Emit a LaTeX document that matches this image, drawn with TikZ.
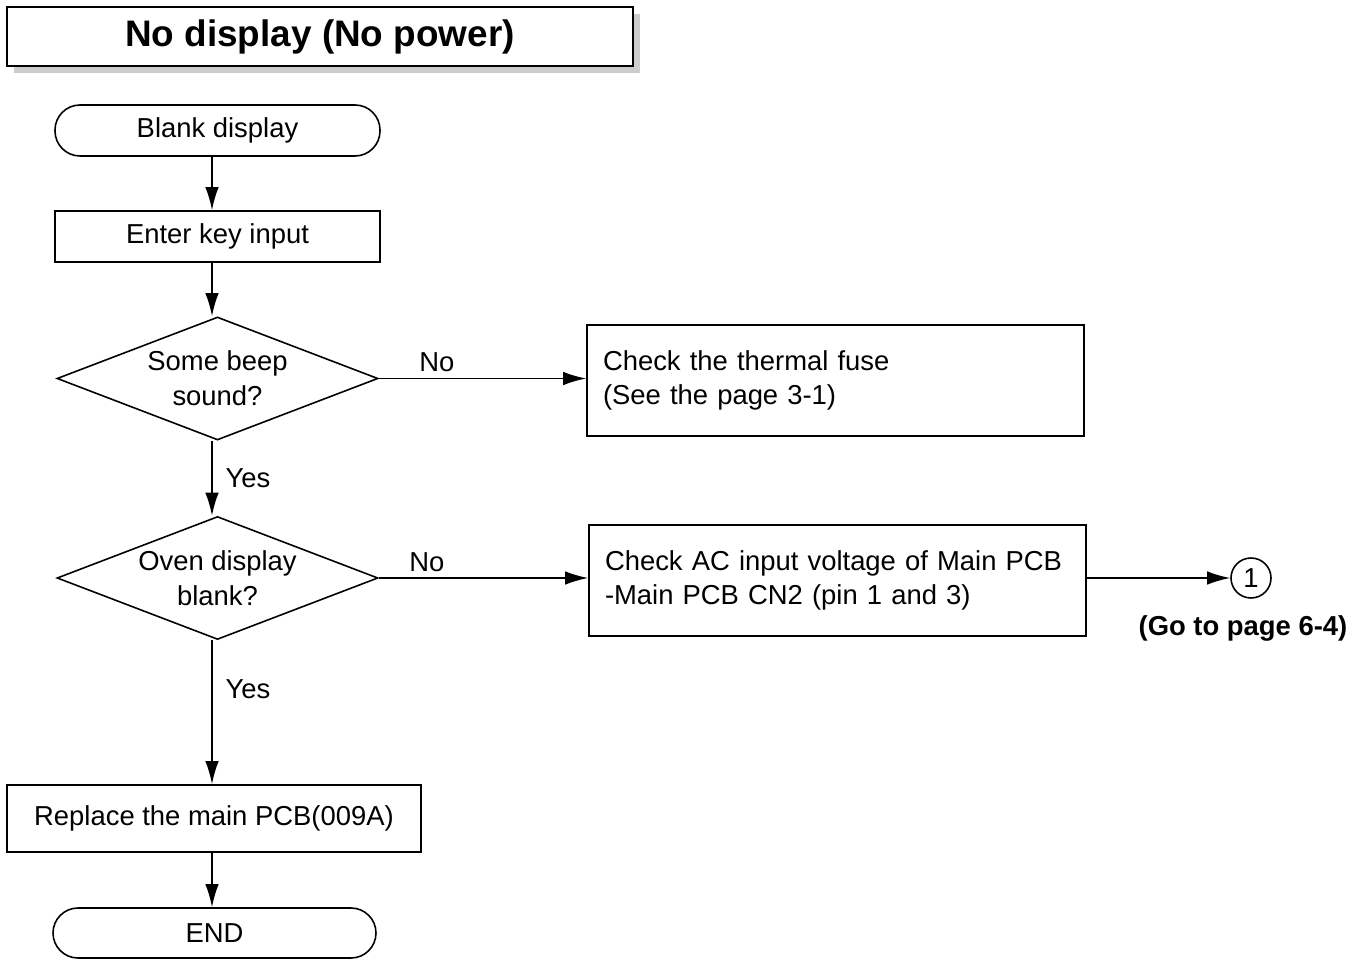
\documentclass[tikz,border=0pt]{standalone}
\usepackage{fontspec}
\setmainfont{Liberation Sans}
\usepackage{tikz}
\usetikzlibrary{shapes.geometric,arrows.meta,positioning,calc,shadows}

\begin{document}
\begin{tikzpicture}[>={Latex[length=0.46cm,width=0.27cm]}, line width=0.9pt]
        \tikzset{
            title/.style={draw, fill=white, rectangle, minimum height=1.18cm, minimum width=12.52cm, font=\fontsize{21}{25}\selectfont\bfseries, general shadow={fill=black!20, shadow xshift=0.14cm, shadow yshift=-0.14cm}},
            terminal/.style={draw, rectangle, rounded corners=0.5cm, minimum height=1.02cm, minimum width=6.5cm, font=\fontsize{15.6}{19.8}\selectfont},
            process/.style={draw, rectangle, minimum height=1.02cm, minimum width=6.5cm, font=\fontsize{15.6}{19.8}\selectfont},
            check/.style={draw, rectangle, minimum height=2.22cm, inner xsep=0.32cm, text width=9.3cm, align=left, font=\fontsize{15.6}{19.8}\selectfont},
            decision/.style={draw, diamond, aspect=2.6, inner sep=0pt, minimum width=6.42cm, minimum height=2.46cm, align=center, font=\fontsize{15.6}{19.8}\selectfont},
            connector/.style={draw, circle, minimum size=0.8cm, inner sep=0pt, font=\fontsize{15.6}{19.8}\selectfont},
            lbl/.style={font=\fontsize{15.6}{19.8}\selectfont},
            line/.style={draw, ->}
        }
        \useasboundingbox (0,0) rectangle (27.28,-19.18);

        % Title
        \node [title] (head) at (6.4,-0.73) {No display (No power)};

        % Main column
        \coordinate (col) at (4.24,0);
        \node [terminal] (blank) at (4.35,-2.61) {Blank display};
        \node [process] (enter) at (4.35,-4.73) {Enter key input};
        \node [decision] (beep) at (4.35,-7.57) {Some beep\\sound?};
        \node [decision] (oven) at (4.35,-11.56) {Oven display\\blank?};
        \node [process, minimum width=8.28cm, minimum height=1.34cm] (pcb) at (4.28,-16.37) {Replace the main PCB(009A)};
        \node [terminal, minimum width=6.46cm, minimum height=1.0cm] (end) at (4.29,-18.66) {END};

        % Checks
        \node [check] (fuse) at (16.71,-7.61) {Check the thermal fuse\\(See the page 3-1)};
        \node [check] (acin) at (16.75,-11.61) {Check AC input voltage of Main PCB\\-Main PCB CN2 (pin 1 and 3)};
        \node [connector] (goto) at (25.02,-11.56) {1};
        \node [lbl, font=\fontsize{15.6}{19.8}\selectfont\bfseries] (gotolbl) at (24.86,-12.56) {(Go to page 6-4)};

        % Vertical flow
        \draw [line] (blank.south -| col) -- (enter.north -| col);
        \draw [line] (enter.south -| col) -- (beep.north -| col);
        \draw [line] (beep.south -| col) -- node[lbl, right, xshift=4pt] {Yes} (oven.north -| col);
        \draw [line] (oven.south -| col) -- node[lbl, right, pos=0.34, xshift=4pt] {Yes} (pcb.north -| col);
        \draw [line] (pcb.south -| col) -- (end.north -| col);

        % No branches
        \draw [line] (beep.east) -- node[lbl, above, pos=0.28] {No} (beep.east -| fuse.west);
        \draw [line] (oven.east) -- node[lbl, above, pos=0.23] {No} (oven.east -| acin.west);
        \draw [line] (goto -| acin.east) -- (goto.west);

    \end{tikzpicture}
\end{document}
